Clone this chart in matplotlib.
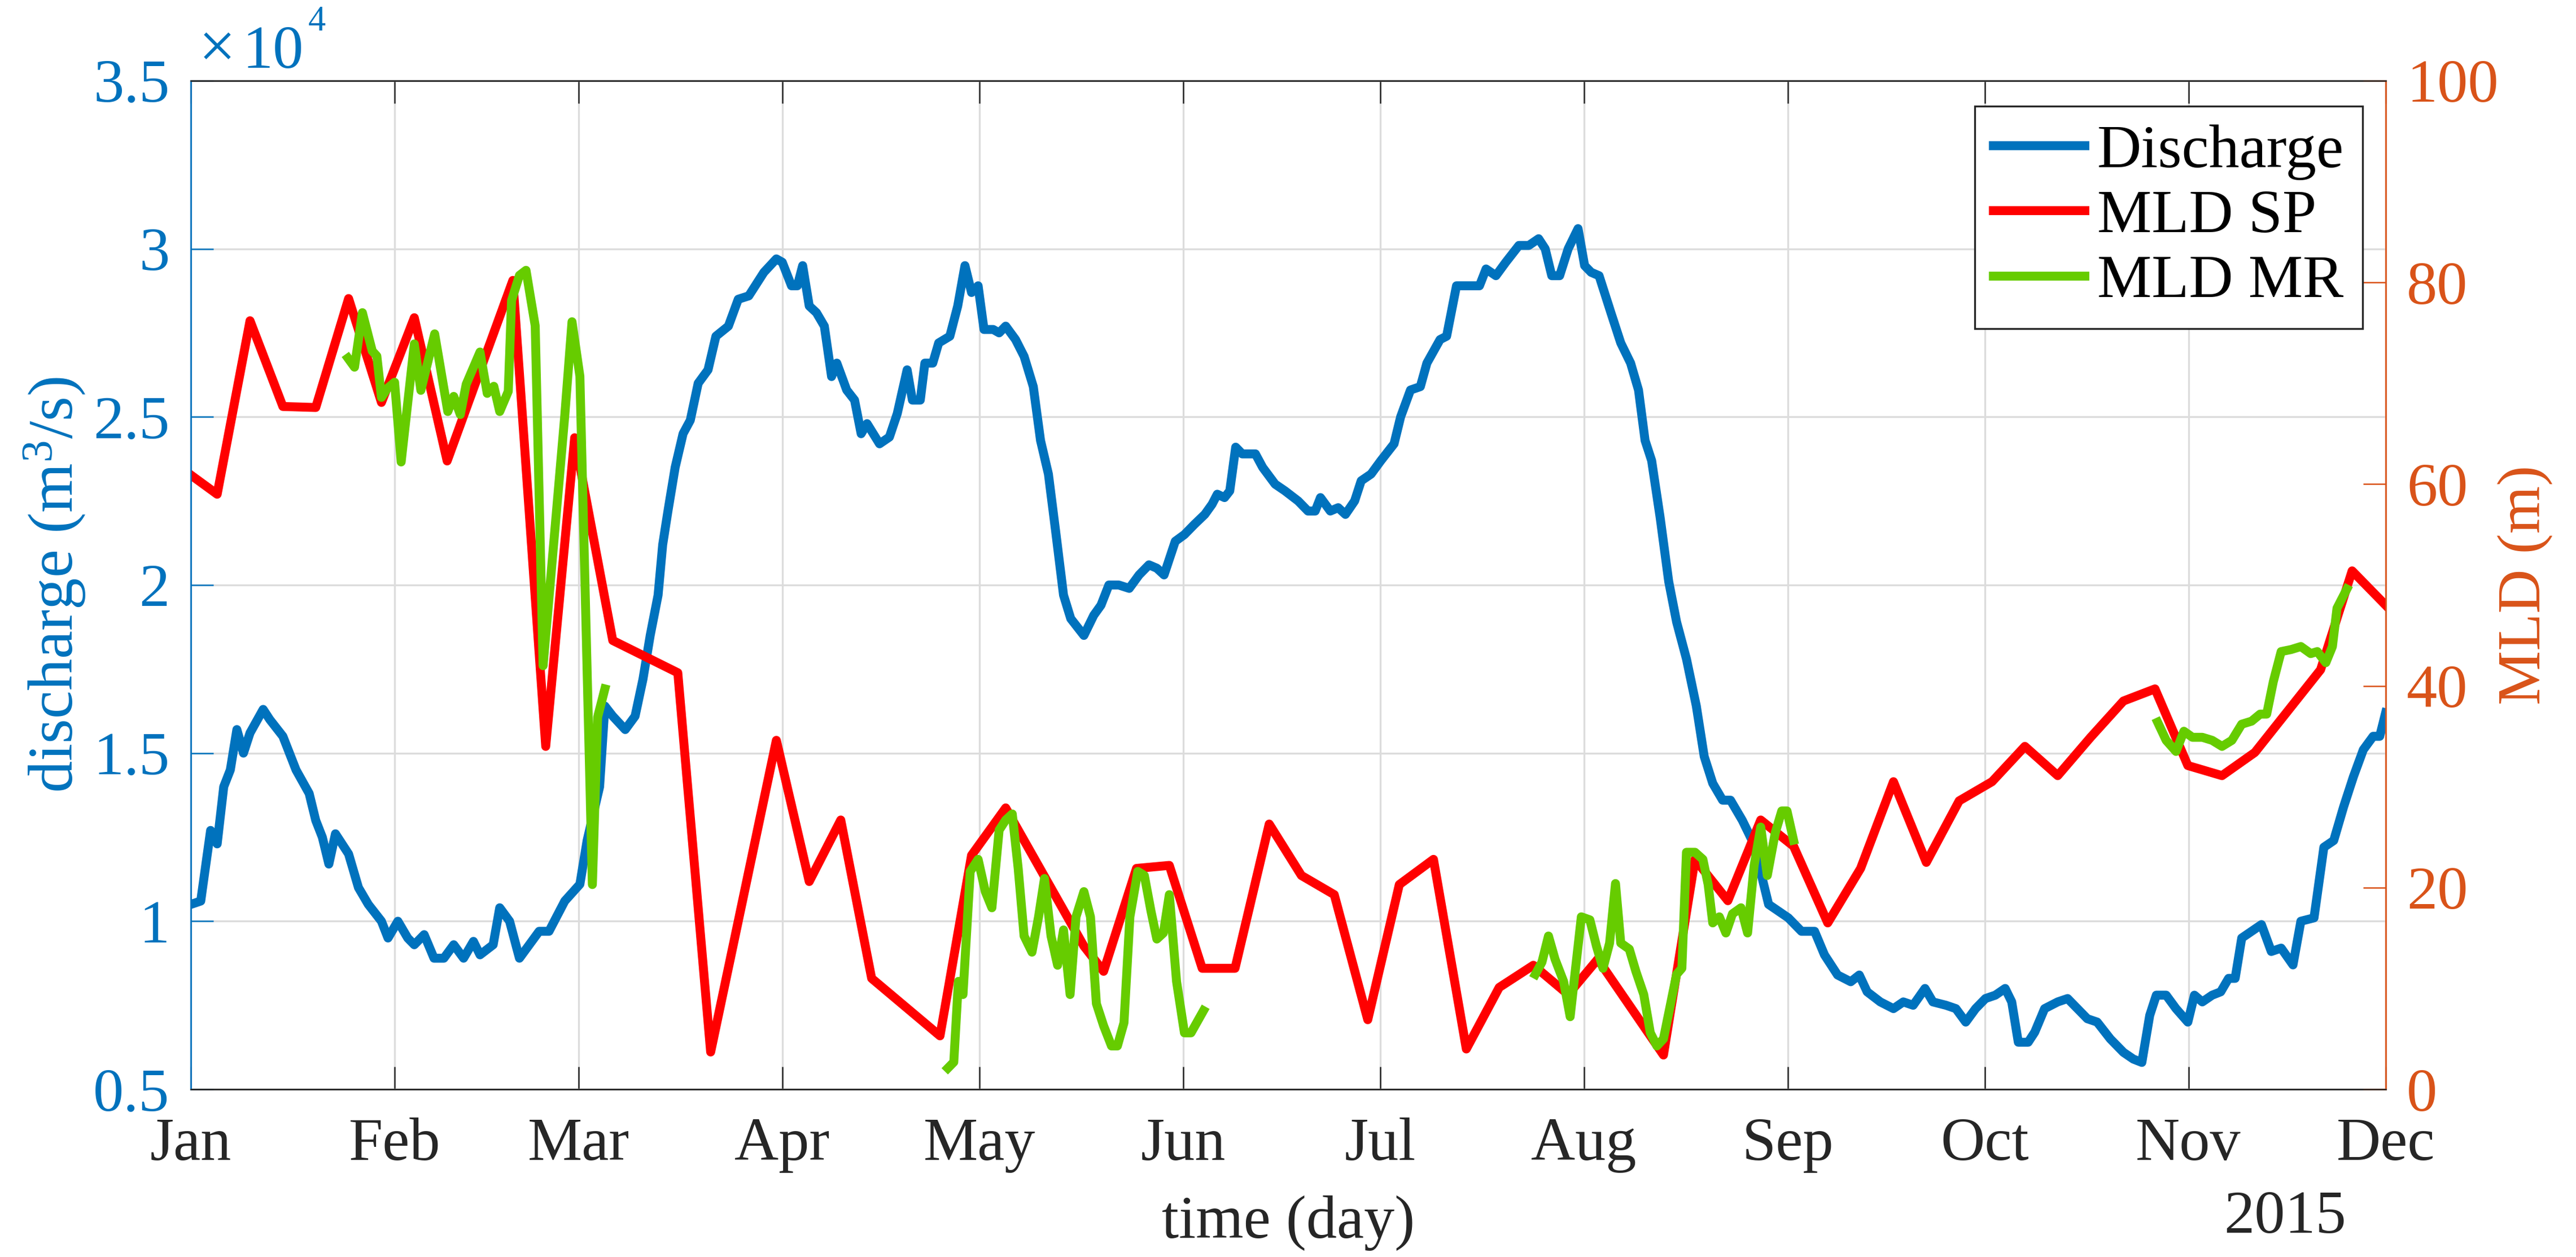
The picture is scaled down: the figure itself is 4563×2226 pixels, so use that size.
import datetime as dt

import numpy as np
import matplotlib
matplotlib.use("Agg")
import matplotlib.pyplot as plt
import matplotlib.dates as mdates
import matplotlib.ticker as mticker

# ---- data (day offset from 2015-01-01) ----
# river discharge, in units of 1e4 m^3/s
discharge_day = [0, 1.5, 3, 4, 5, 6, 7, 8, 9, 11, 12, 14, 16, 18, 19, 20, 21, 22, 24, 25.5,
                 27, 29, 30, 31.5, 33, 34, 35.5, 37, 38.5, 40, 41.5, 43, 44, 46, 47, 48.5, 50,
                 51.5, 53, 54.5, 56.9, 59.2, 60.3, 62.2, 63, 64.2, 66.1, 67.6, 68.8, 69.9,
                 71.1, 71.8, 72.6, 73.7, 74.9, 76, 77.2, 78.7, 79.9, 81.8, 83.3, 84.9, 87.2,
                 89.1, 90, 91.4, 92.3, 93.1, 94.1, 95.2, 96.4, 97.5, 98.3, 99.8, 101, 102,
                 102.9, 104.8, 106.3, 107.5, 109, 109.8, 111, 111.7, 112.9, 113.8, 115.5,
                 116.7, 117.8, 118.8, 119.8, 120.7, 122.1, 123, 124, 125.5, 126.8, 128.2,
                 129.3, 130.5, 131.6, 132.8, 133.9, 135.9, 137.4, 138.5, 139.7, 141.2, 142.8,
                 144.3, 145.8, 147, 148.1, 149.8, 151.2, 152.7, 154.3, 155.4, 156.2, 157.3,
                 158.1, 159, 160, 162, 163.1, 165, 166.5, 168.5, 170, 171.1, 171.9, 173.4,
                 174.6, 175.7, 177.1, 178.1, 179.6, 181.1, 183.1, 184.1, 185.6, 187.1, 188.1,
                 190.1, 191.1, 192.6, 194.6, 196.1, 197.1, 198.6, 200.1, 202.1, 203.6, 205.1,
                 206.1, 207.1, 208.3, 209.6, 211.1, 212.1, 213.1, 214.3, 216.1, 217.6, 219.1,
                 220.3, 221.3, 222.3, 223.6, 224.9, 226.1, 227.6, 229.1, 230.3, 231.6, 233.1,
                 234.3, 236.1, 237.6, 239.1, 240.1, 241.6, 243.1, 245.1, 247.1, 248.6, 250.6,
                 252.6, 253.9, 255.1, 257.1, 259.1, 260.6, 262.1, 263.9, 265.1, 267.1, 268.6,
                 270.1, 271.6, 273.1, 274.6, 276.1, 277.1, 278.1, 279.6, 280.6, 282.1, 284.1,
                 285.6, 287.1, 288.6, 290.1, 292.1, 294.1, 295.6, 296.9, 298.1, 299.1, 300.6,
                 302.1, 303.9, 304.9, 306.1, 307.6, 308.9, 310.1, 311.1, 312.1, 313.6, 315.1,
                 316.6, 318.1, 319.9, 321.1, 323.1, 324.6, 326.1, 327.6, 329.1, 330.6, 332.1,
                 333.1, 334]
discharge_val = [1.05, 1.06, 1.27, 1.23, 1.40, 1.45, 1.57, 1.50, 1.56, 1.63, 1.60, 1.55, 1.45,
                 1.38, 1.30, 1.25, 1.17, 1.26, 1.20, 1.10, 1.05, 1.00, 0.95, 1.00, 0.95, 0.93,
                 0.96, 0.89, 0.89, 0.93, 0.89, 0.94, 0.90, 0.93, 1.04, 1.00, 0.89, 0.93, 0.97,
                 0.97, 1.06, 1.11, 1.24, 1.40, 1.64, 1.61, 1.57, 1.61, 1.72, 1.85, 1.97, 2.12,
                 2.22, 2.35, 2.45, 2.49, 2.60, 2.64, 2.74, 2.77, 2.85, 2.86, 2.93, 2.97, 2.96,
                 2.89, 2.89, 2.95, 2.83, 2.81, 2.77, 2.62, 2.66, 2.58, 2.55, 2.45, 2.48, 2.42,
                 2.44, 2.51, 2.64, 2.55, 2.55, 2.66, 2.66, 2.72, 2.74, 2.83, 2.95, 2.87, 2.89,
                 2.76, 2.76, 2.75, 2.77, 2.73, 2.68, 2.59, 2.43, 2.33, 2.16, 1.97, 1.90, 1.85,
                 1.91, 1.94, 2.00, 2.00, 1.99, 2.03, 2.06, 2.05, 2.03, 2.13, 2.15, 2.18, 2.21,
                 2.24, 2.27, 2.26, 2.28, 2.41, 2.39, 2.39, 2.35, 2.30, 2.28, 2.25, 2.22, 2.22,
                 2.26, 2.22, 2.23, 2.21, 2.25, 2.31, 2.33, 2.37, 2.42, 2.50, 2.58, 2.59, 2.66,
                 2.73, 2.74, 2.89, 2.89, 2.89, 2.94, 2.92, 2.96, 3.01, 3.01, 3.03, 3.00, 2.92,
                 2.92, 3.00, 3.06, 2.95, 2.93, 2.92, 2.81, 2.72, 2.66, 2.58, 2.43, 2.37, 2.20,
                 2.01, 1.89, 1.78, 1.64, 1.49, 1.41, 1.36, 1.36, 1.30, 1.24, 1.13, 1.05, 1.03,
                 1.01, 0.97, 0.97, 0.90, 0.84, 0.82, 0.84, 0.79, 0.76, 0.74, 0.76, 0.75, 0.80,
                 0.76, 0.75, 0.74, 0.70, 0.74, 0.77, 0.78, 0.80, 0.76, 0.64, 0.64, 0.67, 0.74,
                 0.76, 0.77, 0.74, 0.71, 0.70, 0.65, 0.61, 0.59, 0.58, 0.72, 0.78, 0.78, 0.74,
                 0.70, 0.78, 0.76, 0.78, 0.79, 0.83, 0.83, 0.95, 0.97, 0.99, 0.91, 0.92, 0.87,
                 1.00, 1.01, 1.22, 1.24, 1.34, 1.43, 1.51, 1.55, 1.55, 1.62]

# mixed layer depth from SP profiles (m), roughly every 5 days
mld_sp_day = [0, 4, 9, 14, 19, 24, 29, 34, 39, 49, 54, 58.4, 64.2, 74.1, 79.1, 89.1, 94.1,
              98.9, 103.6, 114, 118.8, 124, 135.9, 138.9, 143.9, 148.9, 153.9, 158.9, 164.1,
              169, 174, 179.1, 183.9, 189.1, 194.1, 199.1, 204.3, 209.6, 214.1, 224.1, 228.9,
              233.9, 238.9, 243.9, 249.1, 254.1, 259.1, 264.1, 269.1, 274.1, 279.1, 284.1,
              289.1, 294.1, 298.9, 303.9, 309.1, 314.1, 319.1, 324.1, 328.9, 334]
mld_sp_val = [60.9, 59.0, 76.2, 67.7, 67.6, 78.4, 68.1, 76.5, 62.3, 80.2, 34.0, 64.6, 44.5,
              41.3, 3.7, 34.6, 20.6, 26.7, 11.0, 5.3, 23.2, 27.9, 14.2, 11.7, 21.9, 22.2, 12.0,
              12.0, 26.3, 21.2, 19.3, 6.9, 20.3, 22.8, 4.0, 10.1, 12.3, 9.4, 12.9, 3.4, 22.8,
              18.7, 26.7, 24.1, 16.5, 21.9, 30.5, 22.5, 28.6, 30.5, 34.0, 31.1, 34.9, 38.5,
              39.7, 32.1, 31.1, 33.4, 37.5, 41.6, 51.4, 48.0]

# mixed layer depth from MR (m), four separate stretches
mld_mr_day = [
    [23.9, 24.9, 26.1, 27.6, 28.3, 29.0, 29.9, 31.0, 32.0, 34.0, 35.0, 37.1, 39.1, 40.0,
     41.0, 41.9, 44.0, 45.1, 46.1, 47.0, 48.3, 48.8, 50.0, 51.0, 52.4, 53.6, 56.9, 58.0,
     59.2, 61.1, 61.9, 63.0],
    [115.2, 116.1, 116.8, 117.5, 118.6, 119.8, 120.9, 121.9, 123.0, 124.0, 125.0, 125.9,
     126.8, 128.0, 129.0, 129.9, 130.9, 131.9, 132.8, 133.8, 134.7, 135.9, 136.9, 137.8,
     138.9, 140.1, 141.0, 142.0, 142.9, 144.1, 145.1, 146.1, 147.0, 148.0, 148.9, 150.0,
     151.2, 152.2, 154.1],
    [204.6, 205.6, 206.6, 207.6, 208.9, 209.9, 211.6, 212.9, 213.9, 214.9, 215.9, 216.8,
     217.6, 218.9, 219.9, 221.1, 222.1, 223.1, 224.1, 225.1, 226.1, 226.9, 227.6, 228.9,
     230.1, 230.9, 231.6, 232.6, 233.6, 234.6, 235.9, 236.9, 237.9, 238.9, 239.9, 241.1,
     242.1, 242.9, 243.9],
    [299.3, 300.6, 302.1, 303.3, 304.6, 306.1, 307.6, 309.1, 310.6, 312.1, 313.6, 314.9,
     315.9, 316.9, 318.1, 319.6, 321.1, 322.6, 323.6, 324.9, 325.9, 326.6, 328.1],
]
mld_mr_val = [
    [72.5, 71.6, 77.0, 73.2, 72.7, 68.6, 69.5, 70.1, 62.2, 73.9, 69.3, 74.9, 67.2, 68.7,
     66.9, 69.9, 73.1, 69.0, 69.7, 67.2, 69.2, 78.2, 80.7, 81.2, 75.7, 42.0, 66.8, 76.1,
     70.7, 20.3, 36.9, 39.7],
    [2.1, 2.7, 10.7, 9.4, 21.6, 22.8, 19.6, 18.0, 25.7, 26.7, 27.3, 21.9, 15.2, 13.6, 17.1,
     20.9, 15.2, 12.3, 15.8, 9.4, 17.1, 19.6, 17.1, 8.5, 6.3, 4.3, 4.3, 6.6, 17.1, 21.6,
     21.2, 17.7, 14.9, 15.5, 19.3, 10.7, 5.6, 5.6, 7.8],
    [11.4, 12.6, 15.2, 12.9, 10.7, 7.2, 17.1, 16.8, 14.2, 12.0, 14.5, 20.4, 14.5, 13.9,
     11.7, 9.4, 5.6, 4.3, 5.0, 8.2, 11.4, 12.0, 23.5, 23.5, 22.8, 20.3, 16.5, 17.1, 15.5,
     17.4, 18.0, 15.5, 22.2, 26.0, 21.2, 25.4, 27.6, 27.6, 24.7],
    [36.4, 34.6, 33.5, 35.5, 34.9, 34.9, 34.6, 34.0, 34.6, 36.2, 36.5, 37.2, 37.2, 40.4,
     43.4, 43.6, 43.9, 43.2, 43.4, 42.3, 43.9, 47.7, 49.6],
]

BLUE = "#0072BD"
ORANGE = "#D95319"
RED = "#FF0000"
GREEN = "#66CC00"
DARK = "#262626"

plt.rcParams["font.family"] = ["Liberation Serif", "DejaVu Serif"]
plt.rcParams["mathtext.fontset"] = "custom"
plt.rcParams["mathtext.rm"] = "Liberation Serif"
plt.rcParams["mathtext.it"] = "Liberation Serif:italic"
plt.rcParams["font.size"] = 26


def to_num(days):
    return mdates.date2num(dt.datetime(2015, 1, 1)) + np.asarray(days, dtype=float)


fig = plt.figure(figsize=(4563 / 300, 2226 / 300), dpi=300)
ax = fig.add_axes([0.0741, 0.1334, 0.852, 0.8024])
ax2 = ax.twinx()

lw = 3.8
l1, = ax.plot(to_num(discharge_day), discharge_val, color=BLUE, lw=lw,
              solid_joinstyle="round", label="Discharge")
l2, = ax2.plot(to_num(mld_sp_day), mld_sp_val, color=RED, lw=lw,
               solid_joinstyle="round", label="MLD SP")
for d, v in zip(mld_mr_day, mld_mr_val):
    l3, = ax2.plot(to_num(d), v, color=GREEN, lw=lw, solid_joinstyle="round",
                   label="MLD MR")

ax.set_xlim(to_num([0])[0], to_num([334])[0])
ax.set_ylim(0.5, 3.5)
ax2.set_ylim(0, 100)
ax.xaxis.set_major_locator(mdates.MonthLocator())
ax.xaxis.set_major_formatter(mdates.DateFormatter("%b"))
ax.yaxis.set_major_locator(mticker.MultipleLocator(0.5))
ax.yaxis.set_major_formatter(mticker.FuncFormatter(lambda v, p: "%g" % v))
ax2.yaxis.set_major_locator(mticker.MultipleLocator(20))

ax.grid(True, color="#dcdcdc", lw=0.8)
ax.set_axisbelow(True)

ax.tick_params(axis="x", direction="in", length=9.6, width=0.6, colors=DARK,
               top=True, pad=12)
ax.tick_params(axis="y", direction="in", length=9.6, width=0.6, colors=BLUE, pad=9)
ax2.tick_params(axis="y", direction="in", length=9.6, width=0.6, colors=ORANGE, pad=9)
ax2.tick_params(axis="x", top=False, bottom=False)

for a in (ax, ax2):
    for s in a.spines.values():
        s.set_linewidth(0.6)
    a.spines["top"].set_color(DARK)
    a.spines["bottom"].set_color(DARK)
    a.spines["left"].set_color(BLUE)
    a.spines["right"].set_color(ORANGE)

ax.set_xlabel("time (day)", color=DARK)
ax.xaxis.set_label_coords(0.5, -0.105)
ax.set_ylabel("discharge (m$^3$/s)", color=BLUE, fontsize=27)
ax.yaxis.set_label_coords(-0.047, 0.5)
ax2.set_ylabel("MLD (m)", color=ORANGE, rotation=90)
ax2.yaxis.set_label_coords(1.051, 0.5)

# exponent note above the left axis, written as x10 with a raised 4
ax.text(0.0036, 1.013, "\u00d7", transform=ax.transAxes, color=BLUE,
        ha="left", va="baseline", fontsize=28)
ax.text(0.0235, 1.013, "10", transform=ax.transAxes, color=BLUE,
        ha="left", va="baseline", fontsize=26)
ax.text(0.0535, 1.0498, "4", transform=ax.transAxes, color=BLUE,
        ha="left", va="baseline", fontsize=15)
ax.text(0.9542, -0.142, "2015", transform=ax.transAxes, color=DARK,
        ha="center", va="baseline")

leg = ax2.legend([l1, l2, l3], ["Discharge", "MLD SP", "MLD MR"], loc="upper right",
                 bbox_to_anchor=(0.9894, 0.9748), borderaxespad=0, frameon=True,
                 fancybox=False, framealpha=1, edgecolor=DARK, handlelength=1.5,
                 handletextpad=0.2, labelspacing=0.15, borderpad=0.3)
leg.get_frame().set_linewidth(0.8)

fig.savefig("out.png", dpi=300)
